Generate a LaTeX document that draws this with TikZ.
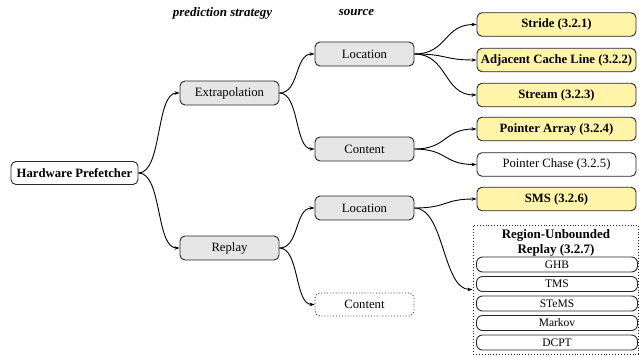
\documentclass[tikz,border=0pt]{standalone}
\usepackage{fontspec}
\setmainfont{Liberation Serif}
\usetikzlibrary{arrows.meta}
\definecolor{boxgray}{HTML}{E6E6E6}
\definecolor{boxyellow}{HTML}{FFF4A8}
\tikzset{
  base/.style={draw=black!85, line width=0.9pt, rounded corners=5pt, inner sep=0pt,
    align=center, font=\fontsize{12.7}{14}\selectfont},
  rootbox/.style={base, fill=white, minimum width=127pt, minimum height=23pt, font=\fontsize{12.7}{14}\selectfont\bfseries},
  catbox/.style={base, fill=boxgray, minimum width=99pt, minimum height=24pt},
  emptybox/.style={base, fill=white, dotted, minimum width=99pt, minimum height=23pt},
  leafbox/.style={base, fill=boxyellow, minimum width=159pt, minimum height=23.5pt, font=\fontsize{12.7}{14}\selectfont\bfseries},
  plainleaf/.style={base, fill=white, minimum width=159pt, minimum height=23.5pt},
  groupbox/.style={draw=black!85, line width=0.9pt, dotted, inner sep=0pt, minimum width=165.5pt, minimum height=129pt},
  subbox/.style={base, fill=white, rounded corners=6pt, minimum width=161pt, minimum height=15pt, font=\fontsize{11.5}{12}\selectfont},
  heading/.style={font=\fontsize{13}{14}\selectfont\bfseries\itshape, inner sep=0pt},
  title/.style={font=\fontsize{13}{14}\selectfont\bfseries, inner sep=0pt},
  link/.style={line width=0.9pt, -{Stealth[length=5pt,width=3.5pt]}},
}
\begin{document}
\begin{tikzpicture}[x=1pt, y=-1pt]
\useasboundingbox (0,0) rectangle (639,356);

% column headings
\node[heading] (hstrat) at (222.5,13) {prediction strategy};
\node[heading] (hsrc) at (356.5,13) {source};

% tree nodes
\node[rootbox] (hw) at (74.5,173) {Hardware Prefetcher};
\node[catbox] (extra) at (229.5,93) {Extrapolation};
\node[catbox] (replay) at (229.5,248) {Replay};
\node[catbox] (loc1) at (364.5,54) {Location};
\node[catbox] (cont1) at (364.5,149) {Content};
\node[catbox] (loc2) at (364.5,208) {Location};
\node[emptybox] (cont2) at (364.5,304.5) {Content};

\node[leafbox] (stride) at (556.5,24.5) {Stride (3.2.1)};
\node[leafbox] (adj) at (556.5,60) {Adjacent Cache Line (3.2.2)};
\node[leafbox] (stream) at (556.5,95) {Stream (3.2.3)};
\node[leafbox] (parr) at (556.5,129) {Pointer Array (3.2.4)};
\node[plainleaf] (pchase) at (556.5,164.5) {Pointer Chase (3.2.5)};
\node[leafbox] (sms) at (556.5,199) {SMS (3.2.6)};

% region-unbounded replay group
\node[groupbox] (region) at (555.75,289.5) {};
\node[title] (rtitle1) at (556,235) {Region-Unbounded};
\node[title] (rtitle2) at (556,250) {Replay (3.2.7)};
\node[subbox] (ghb) at (557,264.5) {GHB};
\node[subbox] (tms) at (557,284) {TMS};
\node[subbox] (stems) at (557,303.5) {STeMS};
\node[subbox] (markov) at (557,323) {Markov};
\node[subbox] (dcpt) at (557,342.5) {DCPT};

% connectors
\draw[link] (hw.east) .. controls +(24,0) and +(-24,0) .. (extra.west);
\draw[link] (hw.east) .. controls +(24,0) and +(-24,0) .. (replay.west);
\draw[link] (extra.east) .. controls +(20,0) and +(-20,0) .. (loc1.west);
\draw[link] (extra.east) .. controls +(20,0) and +(-20,0) .. (cont1.west);
\draw[link] (replay.east) .. controls +(20,0) and +(-20,0) .. (loc2.west);
\draw[link] (replay.east) .. controls +(20,0) and +(-20,0) .. (cont2.west);
\draw[link] (loc1.east) .. controls +(33,0) and +(-33,0) .. (stride.west);
\draw[link] (loc1.east) .. controls +(33,0) and +(-33,0) .. (adj.west);
\draw[link] (loc1.east) .. controls +(33,0) and +(-33,0) .. (stream.west);
\draw[link] (cont1.east) .. controls +(33,0) and +(-33,0) .. (parr.west);
\draw[link] (cont1.east) .. controls +(33,0) and +(-33,0) .. (pchase.west);
\draw[link] (loc2.east) .. controls +(33,0) and +(-33,0) .. (sms.west);
\draw[link] (loc2.east) .. controls +(30,0) and +(-30,0) .. (region.west);
\end{tikzpicture}
\end{document}
